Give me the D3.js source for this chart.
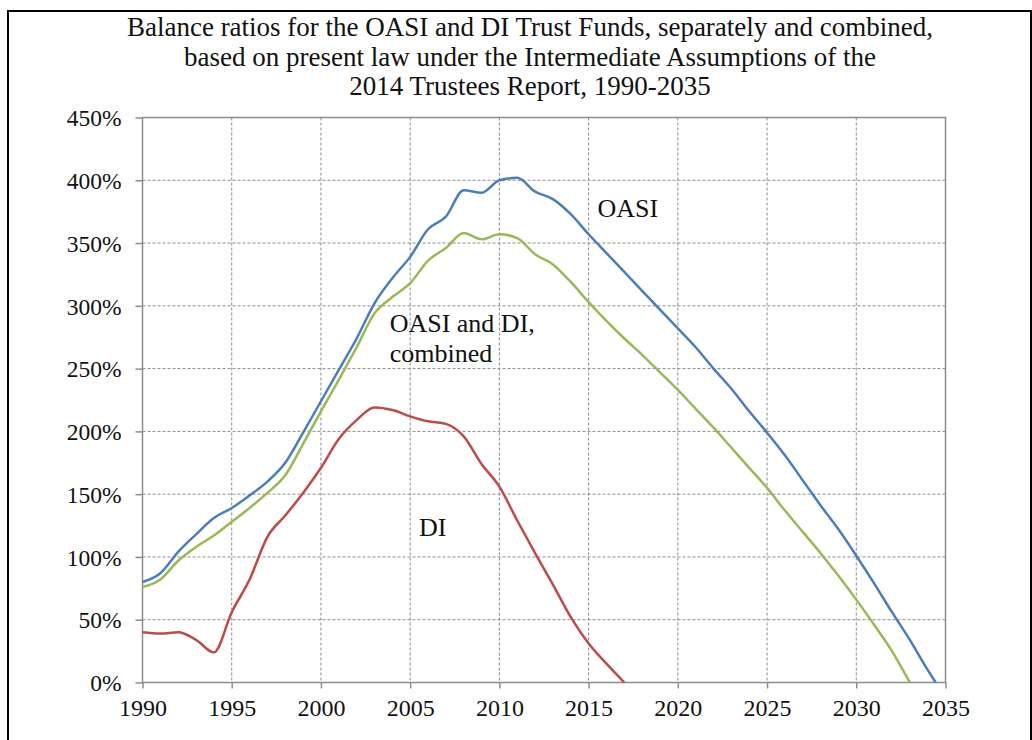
<!DOCTYPE html>
<html>
<head>
<meta charset="utf-8">
<script src="https://cdn.jsdelivr.net/npm/d3@7"></script>
<style>
  body { margin: 0; background: #fff; }
  .line { fill: none; stroke-width: 2.5px; }
  .axis-text { font-family: 'Times New Roman', 'Liberation Serif', Tinos, 'DejaVu Serif', serif; font-size: 23px; fill: #111; }
  .title { font-size: 27px; }
  .series-label { font-size: 26px; }
  .grid line { stroke: #8c8c8c; stroke-width: 1px; stroke-dasharray: 3,2; }
</style>
</head>
<body>
<div id="chart"></div>
<script>
const years = d3.range(1990, 2036);

// balance ratios in percent, one value per year (null after depletion)
const oasiValues = [80, 87, 104, 118, 131, 139, 149, 160, 175, 199,
  224, 249, 274, 302, 322, 339, 361, 371, 392, 390,
  400, 402, 391, 385, 373, 357, 342, 327, 312, 297,
  282, 267, 250, 234, 216, 199, 181, 161, 141, 122,
  101, 79, 56, 34, 10, null];
const combinedValues = [76, 82, 97, 108, 117, 128, 139, 151, 165, 190,
  216, 241, 267, 294, 307, 318, 336, 346, 358, 353,
  357, 354, 341, 333, 319, 303, 288, 274, 261, 247,
  233, 218, 203, 187, 171, 155, 137, 120, 103, 85,
  66, 46, 25, 0, null, null];
const diValues = [40, 39, 40, 34, 24, 56, 82, 116, 133, 151,
  171, 194, 209, 219, 217, 212, 208, 206, 196, 174,
  156, 129, 103, 78, 52, 31, 15, 0, null, null,
  null, null, null, null, null, null, null, null, null, null,
  null, null, null, null, null, null];

// year each fund reaches 0% where it falls between whole years
const oasiDepletion = 2034.45;

const yTicks = [0, 50, 100, 150, 200, 250, 300, 350, 400, 450];
const xTicks = [1990, 1995, 2000, 2005, 2010, 2015, 2020, 2025, 2030, 2035];
const titleLines = [
  'Balance ratios for the OASI and DI Trust Funds, separately and combined,',
  'based on present law under the Intermediate Assumptions of the',
  '2014 Trustees Report, 1990-2035'
];

const FONT = "'Times New Roman', 'Liberation Serif', Tinos, 'DejaVu Serif', serif";
const W = 1032, H = 740;
const margin = { top: 117.5, right: 86.5, bottom: 57.5, left: 142.5 };
const width = W - margin.left - margin.right;
const height = H - margin.top - margin.bottom;

const root = d3.select('#chart').append('svg')
  .attr('width', W)
  .attr('height', H);

// Outer frame
root.append('rect')
  .attr('x', 8).attr('y', 11)
  .attr('width', 1023).attr('height', 740)
  .attr('fill', 'none')
  .attr('stroke', '#000')
  .attr('stroke-width', 2);

// Title
root.append('text')
  .attr('class', 'axis-text title')
  .attr('text-anchor', 'middle')
  .selectAll('tspan')
  .data(titleLines)
  .join('tspan')
  .attr('x', 530)
  .attr('y', (d, i) => 36 + i * 29.5)
  .text(d => d);

const svg = root.append('g')
  .attr('transform', `translate(${margin.left},${margin.top})`);

// Scales
const x = d3.scaleLinear().domain([1990, 2035]).range([0, width]);
const y = d3.scaleLinear().domain([0, 450]).range([height, 0]);

// Grid
svg.append('g').attr('class', 'grid')
  .selectAll('line')
  .data(xTicks.slice(1, -1))
  .join('line')
  .attr('x1', d => x(d)).attr('x2', d => x(d))
  .attr('y1', 0).attr('y2', height);

svg.append('g').attr('class', 'grid')
  .selectAll('line')
  .data(yTicks.slice(1, -1))
  .join('line')
  .attr('x1', 0).attr('x2', width)
  .attr('y1', d => y(d)).attr('y2', d => y(d));

// Plot frame
svg.append('rect')
  .attr('width', width).attr('height', height)
  .attr('fill', 'none')
  .attr('stroke', '#8c8c8c')
  .attr('stroke-width', 1.5);

// Axes
const xAxis = svg.append('g')
  .attr('transform', `translate(0,${height})`)
  .call(d3.axisBottom(x).tickValues(xTicks).tickFormat(d3.format('d')).tickSize(6).tickPadding(10));
const yAxis = svg.append('g')
  .call(d3.axisLeft(y).tickValues(yTicks).tickFormat(d => d + '%').tickSize(7).tickPadding(14));

[xAxis, yAxis].forEach(a => {
  a.select('.domain').remove();
  a.selectAll('line').attr('stroke', '#8c8c8c').attr('stroke-width', 1.5);
  a.selectAll('text').attr('class', 'axis-text').attr('fill', '#111')
    .style('font-family', FONT);
});
xAxis.selectAll('text').style('font-size', '24px');
yAxis.selectAll('text').style('font-size', '23.5px').attr('dy', '0.35em');

// Lines
function toPoints(values, depletion) {
  const pts = years.map((yr, i) => ({ year: yr, value: values[i] }))
    .filter(d => d.value !== null);
  if (depletion !== undefined) pts.push({ year: depletion, value: 0 });
  return pts;
}

const line = d3.line()
  .x(d => x(d.year))
  .y(d => y(d.value))
  .curve(d3.curveMonotoneX);

const series = [
  { name: 'OASI', points: toPoints(oasiValues, oasiDepletion), color: '#4a7ebb' },
  { name: 'OASI and DI', points: toPoints(combinedValues), color: '#98b954' },
  { name: 'DI', points: toPoints(diValues), color: '#be4b48' }
];

svg.selectAll('.line')
  .data(series)
  .join('path')
  .attr('class', 'line')
  .attr('stroke', d => d.color)
  .attr('d', d => line(d.points));

// Series labels
const labels = [
  { text: 'OASI', year: 2015.5, value: 371 },
  { text: 'OASI and DI,', year: 2003.85, value: 279 },
  { text: 'combined', year: 2003.85, value: 255 },
  { text: 'DI', year: 2005.5, value: 117 }
];

svg.selectAll('.series-label')
  .data(labels)
  .join('text')
  .attr('class', 'axis-text series-label')
  .attr('x', d => x(d.year))
  .attr('y', d => y(d.value))
  .text(d => d.text);
</script>
</body>
</html>
